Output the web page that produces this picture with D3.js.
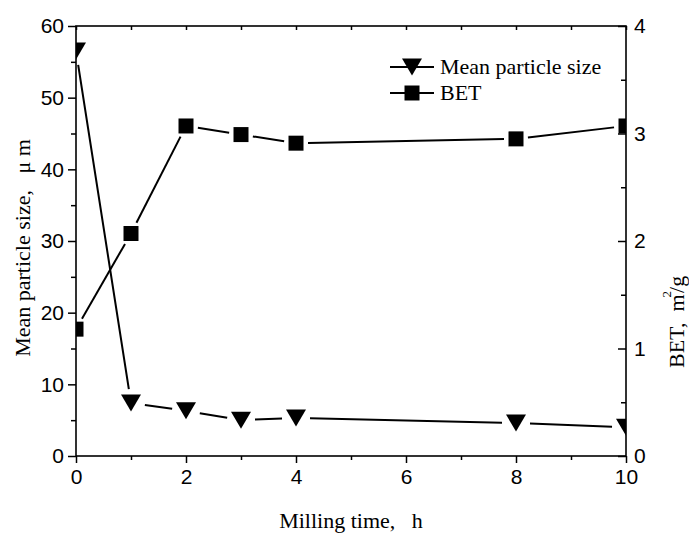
<!DOCTYPE html>
<html>
<head>
<meta charset="utf-8">
<script src="https://cdn.jsdelivr.net/npm/d3@7"></script>
<style>
  body { margin: 0; background: #fff; }
  .tick text { font-family: 'Liberation Sans', Arial, sans-serif; font-size: 21px; fill: #000; }
  .axis path.domain { display: none; }
  .axis line { stroke: #000; stroke-width: 1.5px; }
  .title { font-family: 'Liberation Serif', 'Times New Roman', serif; font-size: 22px; fill: #000; }
</style>
</head>
<body>
<div id="chart"></div>
<script>
// data
var timeH = [0, 1, 2, 3, 4, 8, 10];
var meanSize = [56.5, 7.4, 6.3, 5.0, 5.3, 4.6, 4.0];   // um, left axis
var bet = [1.18, 2.07, 3.07, 2.99, 2.91, 2.95, 3.07];   // m2/g, right axis

var xTicks = [0, 2, 4, 6, 8, 10];
var xMinor = [1, 3, 5, 7, 9];
var yLeftTicks = [0, 10, 20, 30, 40, 50, 60];
var yLeftMinor = [5, 15, 25, 35, 45, 55];
var yRightTicks = [0, 1, 2, 3, 4];
var yRightMinor = [0.5, 1.5, 2.5, 3.5];

var width = 689, height = 534;
var plotL = 76, plotR = 626, plotT = 26, plotB = 456;

var svg = d3.select('#chart')
    .append('svg')
    .attr('width', width)
    .attr('height', height);

var xScale = d3.scaleLinear().domain([0, 10]).range([plotL, plotR]);
var yLeft = d3.scaleLinear().domain([0, 60]).range([plotB, plotT]);
var yRight = d3.scaleLinear().domain([0, 4]).range([plotB, plotT]);

// axes
svg.append('g').attr('class', 'axis')
    .attr('transform', 'translate(0,' + plotB + ')')
    .call(d3.axisBottom(xScale).tickValues(xTicks).tickSize(7).tickPadding(6).tickFormat(d3.format('d')));
svg.append('g').attr('class', 'axis')
    .attr('transform', 'translate(0,' + plotB + ')')
    .call(d3.axisBottom(xScale).tickValues(xMinor).tickSize(4).tickFormat(''));
svg.append('g').attr('class', 'axis')
    .attr('transform', 'translate(0,' + plotT + ')')
    .call(d3.axisTop(xScale).tickValues(xTicks.concat(xMinor)).tickSizeInner(-4).tickSizeOuter(0).tickFormat(''));

svg.append('g').attr('class', 'axis')
    .attr('transform', 'translate(' + plotL + ',0)')
    .call(d3.axisLeft(yLeft).tickValues(yLeftTicks).tickSize(8).tickPadding(4));
svg.append('g').attr('class', 'axis')
    .attr('transform', 'translate(' + plotL + ',0)')
    .call(d3.axisLeft(yLeft).tickValues(yLeftMinor).tickSize(5).tickFormat(''));

svg.append('g').attr('class', 'axis')
    .attr('transform', 'translate(' + plotR + ',0)')
    .call(d3.axisRight(yRight).tickValues(yRightTicks).tickSizeInner(-8).tickSizeOuter(0).tickPadding(8).tickFormat(d3.format('d')));
svg.append('g').attr('class', 'axis')
    .attr('transform', 'translate(' + plotR + ',0)')
    .call(d3.axisRight(yRight).tickValues(yRightMinor).tickSizeInner(-5).tickSizeOuter(0).tickFormat(''));

// frame
svg.append('rect')
    .attr('x', plotL).attr('y', plotT)
    .attr('width', plotR - plotL).attr('height', plotB - plotT)
    .attr('fill', 'none').attr('stroke', '#000').attr('stroke-width', 1.6);

svg.append('clipPath').attr('id', 'plotClip')
    .append('rect')
    .attr('x', plotL).attr('y', plotT)
    .attr('width', plotR - plotL).attr('height', plotB - plotT);

var triPath = 'M-10,-8.5L10,-8.5L0,8.5Z';
var sqPath = 'M-7.5,-7.5H7.5V7.5H-7.5Z';

// segments with a small gap around the symbols
function drawSeries(values, yScale, shape, gap) {
    var pts = timeH.map(function(t, i){ return [xScale(t), yScale(values[i])]; });
    var g = svg.append('g').attr('clip-path', 'url(#plotClip)');
    for (var i = 0; i < pts.length - 1; i++) {
        var a = pts[i], b = pts[i+1];
        var dx = b[0] - a[0], dy = b[1] - a[1];
        var len = Math.sqrt(dx*dx + dy*dy);
        var ux = dx / len, uy = dy / len;
        g.append('line')
            .attr('x1', a[0] + ux*gap).attr('y1', a[1] + uy*gap)
            .attr('x2', b[0] - ux*gap).attr('y2', b[1] - uy*gap)
            .attr('stroke', '#000').attr('stroke-width', 2);
    }
    g.selectAll('.pt')
        .data(pts)
        .enter()
        .append('path')
        .attr('d', shape)
        .attr('transform', function(d){ return 'translate(' + d[0] + ',' + d[1] + ')'; })
        .attr('fill', '#000');
}

drawSeries(bet, yRight, sqPath, 12);
drawSeries(meanSize, yLeft, triPath, 14);

// legend
var legend = [
    { label: 'Mean particle size', shape: triPath, y: 67 },
    { label: 'BET', shape: sqPath, y: 93 }
];
legend.forEach(function(d){
    svg.append('line')
        .attr('x1', 390).attr('x2', 434)
        .attr('y1', d.y).attr('y2', d.y)
        .attr('stroke', '#000').attr('stroke-width', 2);
    svg.append('path')
        .attr('d', d.shape)
        .attr('transform', 'translate(412,' + d.y + ')')
        .attr('fill', '#000');
    svg.append('text')
        .attr('class', 'title')
        .attr('x', 440).attr('y', d.y + 7)
        .text(d.label);
});

// axis titles
svg.append('text')
    .attr('class', 'title')
    .attr('x', (plotL + plotR) / 2).attr('y', 528)
    .attr('text-anchor', 'middle')
    .attr('xml:space', 'preserve')
    .text('Milling time,   h');

svg.append('text')
    .attr('class', 'title')
    .attr('transform', 'translate(30,' + 248 + ') rotate(-90)')
    .attr('text-anchor', 'middle')
    .attr('xml:space', 'preserve')
    .text('Mean particle size,   \u03bc m');

var rt = svg.append('text')
    .attr('class', 'title')
    .attr('transform', 'translate(684,' + 368 + ') rotate(-90)')
    .attr('xml:space', 'preserve');
rt.append('tspan').text('BET,  m');
rt.append('tspan').attr('dy', -13).attr('dx', -3).style('font-size', '13px').text('2');
rt.append('tspan').attr('dy', 13).attr('dx', -2).text('/g');
</script>
</body>
</html>
